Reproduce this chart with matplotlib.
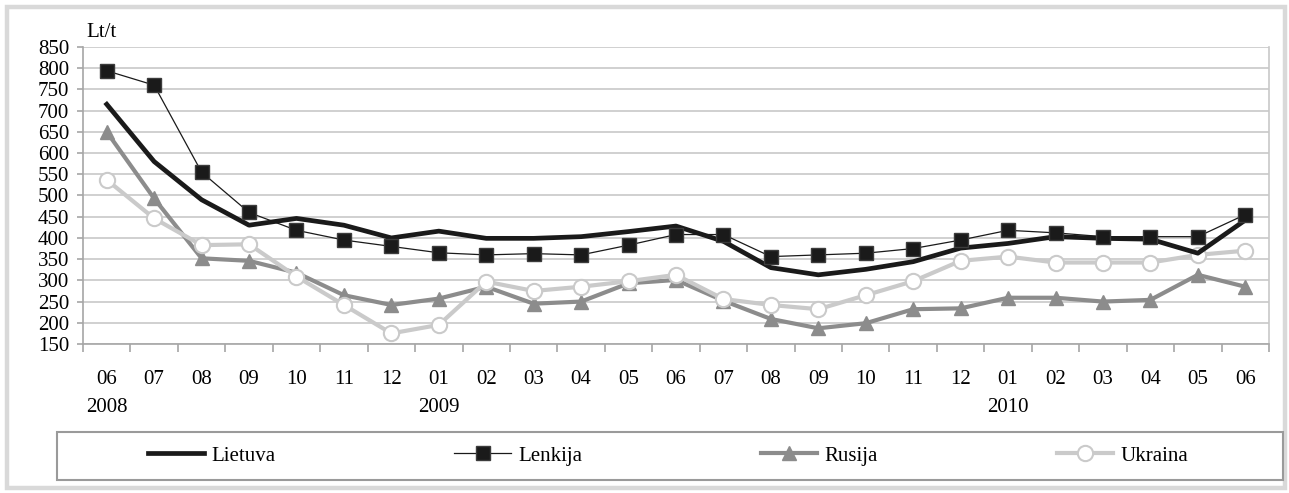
import matplotlib.pyplot as plt
import numpy as np
from matplotlib.patches import Rectangle

plt.rcParams['font.family'] = ['Liberation Serif', 'DejaVu Serif']

months = ['06', '07', '08', '09', '10', '11', '12', '01', '02', '03', '04', '05', '06',
          '07', '08', '09', '10', '11', '12', '01', '02', '03', '04', '05', '06']
years = ['2008', '2009', '2010']
year_pos = [0, 7, 19]

lietuva = [715, 580, 490, 430, 446, 430, 400, 416, 399, 399, 403, 415, 428,
           392, 330, 313, 326, 344, 376, 387, 403, 399, 397, 364, 442]
lenkija = [794, 760, 555, 460, 418, 395, 380, 365, 360, 363, 360, 383, 408,
           408, 356, 360, 364, 375, 395, 418, 412, 403, 403, 403, 455]
rusija = [650, 493, 352, 346, 318, 265, 242, 257, 285, 245, 250, 293, 301,
          252, 209, 187, 199, 232, 234, 259, 259, 250, 254, 313, 285]
ukraina = [537, 446, 383, 385, 309, 242, 175, 195, 297, 275, 285, 298, 313,
           256, 242, 232, 265, 298, 346, 356, 342, 342, 342, 360, 370]

W, H = 1289, 493
FS = 15
fig = plt.figure(figsize=(W / 100, H / 100), dpi=100)

# outer frame
fig.patches.append(Rectangle((7 / W, 1 - 488 / H), 1278 / W, 481 / H, transform=fig.transFigure,
                             fill=False, edgecolor='#d9d9d9', linewidth=3.2))
# legend frame
fig.patches.append(Rectangle((57 / W, 1 - 480 / H), 1226 / W, 48 / H, transform=fig.transFigure,
                             fill=False, edgecolor='#9a9a9a', linewidth=1.5))

ax = fig.add_axes([83 / W, 1 - 344 / H, 1186 / W, 297 / H])
x = np.arange(len(months))

ax.plot(x, lietuva, color='#1a1a1a', linewidth=3.4, label='Lietuva', zorder=4)
ax.plot(x, lenkija, color='#1a1a1a', linewidth=0.9, marker='s', markersize=9.5,
        markerfacecolor='#1a1a1a', markeredgecolor='#3c3c3c', markeredgewidth=1.0,
        label='Lenkija', zorder=5)
ax.plot(x, rusija, color='#8c8c8c', linewidth=3.0, marker='^', markersize=10,
        markerfacecolor='#8c8c8c', markeredgecolor='#8c8c8c', label='Rusija', zorder=3)
ax.plot(x, ukraina, color='#cacaca', linewidth=3.0, marker='o', markersize=11,
        markerfacecolor='white', markeredgecolor='#cacaca', markeredgewidth=1.5,
        label='Ukraina', zorder=3)

ax.set_xlim(-0.5, len(months) - 0.5)
ax.set_ylim(150, 850)
ax.set_yticks(np.arange(150, 851, 50))
ax.yaxis.grid(True, color='#c8c8c8', linewidth=1.2)
ax.set_axisbelow(True)

ax.set_xticks(x)
ax.set_xticklabels(months, fontsize=FS)
ax.set_xticks(np.arange(-0.5, len(months)), minor=True)
ax.tick_params(axis='x', which='major', length=0, pad=19)
ax.tick_params(axis='x', which='minor', length=6, color='#a6a6a6', width=1.2)
ax.tick_params(axis='y', length=4, color='#a6a6a6', width=1.2, labelsize=FS, pad=6)

ax.spines['top'].set_visible(False)
ax.spines['right'].set_color('#c8c8c8')
ax.spines['left'].set_color('#a6a6a6')
ax.spines['bottom'].set_color('#a6a6a6')
for s in ['right', 'left', 'bottom']:
    ax.spines[s].set_linewidth(1.2)

for yr, p in zip(years, year_pos):
    ax.text(p, -0.215, yr, transform=ax.get_xaxis_transform(), ha='center', va='center', fontsize=FS)

ax.text(0.003, 1.05, 'Lt/t', transform=ax.transAxes, ha='left', va='center', fontsize=FS)

fig.legend(loc='center', bbox_to_anchor=(668 / W, 1 - 456 / H), ncol=4, frameon=False,
           fontsize=FS, handlelength=2.7, handletextpad=0.35, columnspacing=8.6)

fig.savefig('out.png', dpi=100)
